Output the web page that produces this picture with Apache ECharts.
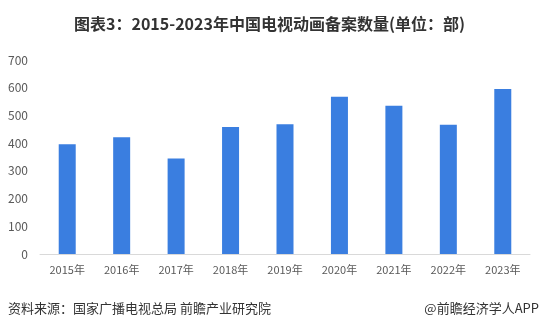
<!DOCTYPE html>
<html><head><meta charset="utf-8">
<script src="https://cdn.jsdelivr.net/npm/echarts@6/dist/echarts.min.js"></script>
<style>html,body{margin:0;padding:0;background:#fff;}#c{width:539px;height:330px;}</style>
</head><body><div id="c"></div>
<script>
var categories = ['2015年','2016年','2017年','2018年','2019年','2020年','2021年','2022年','2023年'];
var values = [396, 421, 345, 458, 468, 567, 535, 466, 595];
var yTicks = [0, 100, 200, 300, 400, 500, 600, 700];
var titleText = '图表3：2015-2023年中国电视动画备案数量(单位：部)';
var sourceText = '资料来源：国家广播电视总局 前瞻产业研究院';
var creditText = '@前瞻经济学人APP';

var font = '"Noto Sans CJK SC", "Microsoft YaHei", sans-serif';
var chart = echarts.init(document.getElementById('c'), null, {renderer:'canvas'});
chart.setOption({
  animation:false,
  backgroundColor:'#ffffff',
  textStyle:{fontFamily:font},
  title:[{
    text:titleText, left:'center', top:11,
    textStyle:{fontSize:16, fontWeight:'bold', color:'#333333', fontFamily:font}
  }],
  graphic:[
    {type:'text', left:8, top:302, style:{text:sourceText, font:'13px '+font, fill:'#333333'}},
    {type:'text', right:0, top:302, style:{text:creditText, font:'13px '+font, fill:'#333333'}}
  ],
  grid:{left:40, right:9, top:60, bottom:76, containLabel:false},
  xAxis:{
    type:'category', data:categories,
    axisLine:{lineStyle:{color:'#d9d9d9'}},
    axisTick:{show:false},
    axisLabel:{color:'#595959', fontSize:11, margin:10, fontFamily:font}
  },
  yAxis:{
    type:'value', min:yTicks[0], max:yTicks[yTicks.length-1], interval:100,
    axisLine:{show:false}, axisTick:{show:false}, splitLine:{show:false},
    axisLabel:{color:'#595959', fontSize:12, margin:12, fontFamily:font}
  },
  series:[{
    type:'bar', data:values, barWidth:17,
    itemStyle:{color:'#3a7ee0'}
  }]
});
</script></body></html>
